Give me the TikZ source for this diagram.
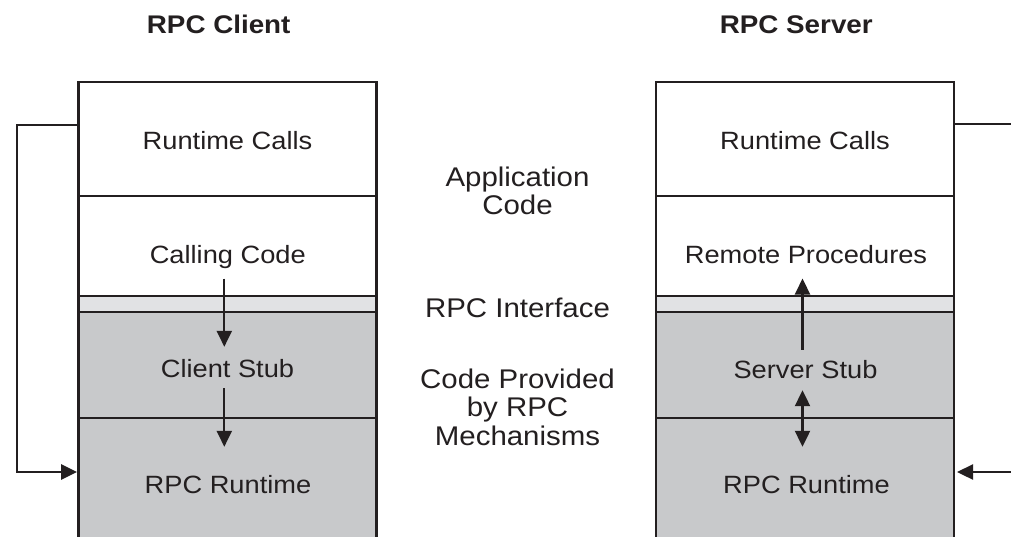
\documentclass[tikz,border=0pt]{standalone}
\usepackage{fontspec}
\setmainfont[FakeStretch=1.09]{Liberation Sans}
\usetikzlibrary{arrows.meta}
\definecolor{gcell}{RGB}{200,201,203}
\definecolor{gband}{RGB}{225,226,228}
\definecolor{ink}{RGB}{35,31,32}
\begin{document}
\begin{tikzpicture}[x=1pt,y=-1pt,
  cell/.style={rectangle, inner sep=0pt, outer sep=0pt, minimum width=298pt, anchor=north west},
  lbl/.style={inner sep=0pt, anchor=base, text height=18pt, text depth=0pt, font=\fontsize{25}{28}\selectfont, text=ink},
  mid/.style={inner sep=0pt, align=center, font=\fontsize{27}{28.5}\selectfont, text=ink},
  ttl/.style={inner sep=0pt, anchor=base, font=\fontsize{25.5}{28}\selectfont\bfseries, text=ink},
  boxline/.style={draw=ink, line width=2.8pt},
  wire/.style={draw=ink, line width=2.4pt},
  tip/.style={-{Triangle[length=16pt,width=15pt]}},
  arr/.style={draw=ink, line width=2.2pt, -{Triangle[length=16pt,width=15pt]}},
  darr/.style={draw=ink, line width=2.2pt, {Triangle[length=16pt,width=15pt]}-{Triangle[length=16pt,width=15pt]}},
]
\path[use as bounding box, fill=white] (0,0) rectangle (1011,536);

% left stack
\node[cell, minimum height=114pt] (lrc) at (78.5,82) {};
\node[cell, minimum height=100pt] (lcc) at (78.5,196) {};
\node[cell, minimum height=16pt, fill=gband] (lif) at (78.5,296) {};
\node[cell, minimum height=106pt, fill=gcell] (lcs) at (78.5,312) {};
\node[cell, minimum height=124pt, fill=gcell] (lrr) at (78.5,418) {};
% right stack
\node[cell, minimum height=114pt] (rrc) at (656,82) {};
\node[cell, minimum height=100pt] (rrp) at (656,196) {};
\node[cell, minimum height=16pt, fill=gband] (rif) at (656,296) {};
\node[cell, minimum height=106pt, fill=gcell] (rss) at (656,312) {};
\node[cell, minimum height=124pt, fill=gcell] (rrr) at (656,418) {};

% outlines and dividers
\draw[boxline] (lrr.south west) |- (lrc.north east) -- (lrr.south east);
\draw[boxline] (rrr.south west) |- (rrc.north east) -- (rrr.south east);
\foreach \c in {lrc,lcc,lif,lcs,rrc,rrp,rif,rss}{
  \draw[boxline] (\c.south west) -- (\c.south east);
}

% titles
\node[ttl] (tcl) at (218.7,33) {RPC Client};
\node[ttl] (tsv) at (796.3,33) {RPC Server};

% labels left
\node[lbl] (lrct) at (227.5,149) {Runtime Calls};
\node[lbl] (lcct) at (227.8,263.3) {Calling Code};
\node[lbl] (lcst) at (227.5,377.7) {Client Stub};
\node[lbl] (lrrt) at (228,493.3) {RPC Runtime};
% labels right
\node[lbl] (rrct) at (805,149) {Runtime Calls};
\node[lbl] (rrpt) at (806,263.3) {Remote Procedures};
\node[lbl] (rsst) at (805.5,378.3) {Server Stub};
\node[lbl] (rrrt) at (806.5,493.3) {RPC Runtime};

% middle text
\node[mid] (app) at (517.5,191) {Application\\Code};
\node[mid, anchor=base] (rpci) at (517.5,317.5) {RPC Interface};
\node[mid] (cpm) at (517.5,407) {Code Provided\\by RPC\\Mechanisms};

% arrows left
\draw[arr] ([xshift=-3.5pt,yshift=-15pt]lcct.south) -- ([xshift=-3.2pt,yshift=12.7pt]lcst.north);
\draw[arr] ([xshift=-3.2pt,yshift=-10.3pt]lcst.south) -- ([xshift=-3.7pt,yshift=28.3pt]lrrt.north);
% arrows right
\draw[arr] ([xshift=-3pt,yshift=10.3pt]rsst.north) -- ([xshift=-3.5pt,yshift=-15pt]rrpt.south);
\draw[darr] ([xshift=-3pt,yshift=-11.7pt]rsst.south) -- ([xshift=-4pt,yshift=28.3pt]rrrt.north);

% side connectors
\draw[wire, tip, shorten >=1.4pt]
  ([yshift=14pt]lrc.west) -- ++(-61.5,0) |- ([yshift=8pt]lrr.west);
\draw[wire] ([yshift=15pt]rrc.east) -- ++(70,0);
\draw[wire, tip, shorten >=3pt]
  ([xshift=70pt,yshift=8pt]rrr.east) -- ([yshift=8pt]rrr.east);
\end{tikzpicture}
\end{document}
